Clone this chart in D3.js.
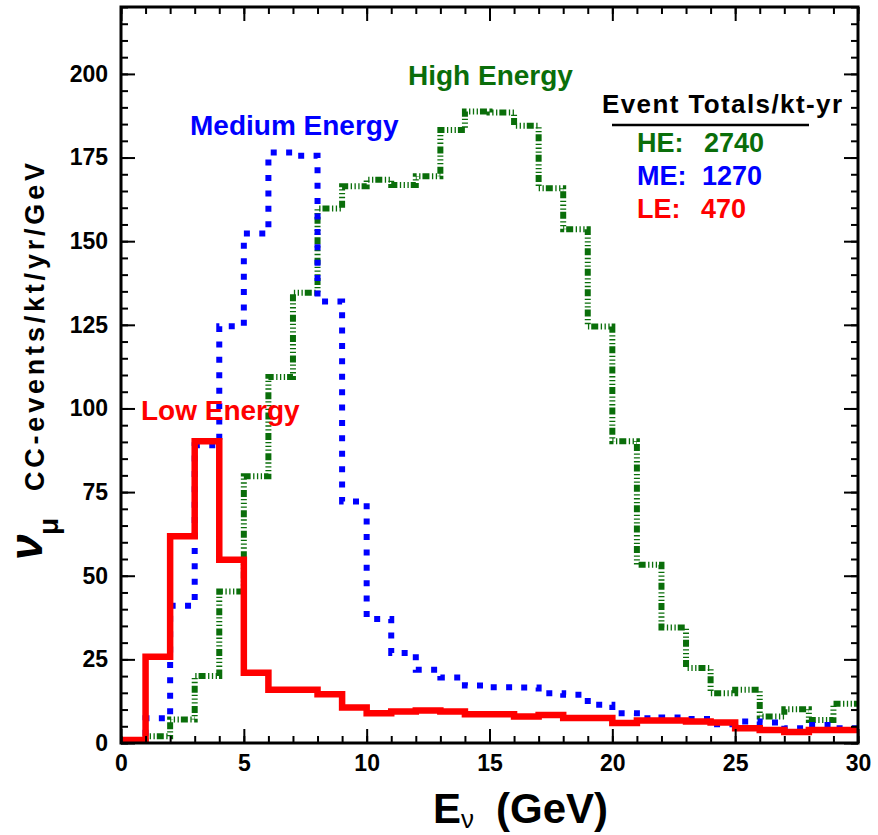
<!DOCTYPE html>
<html><head><meta charset="utf-8">
<script src="https://cdn.jsdelivr.net/npm/d3@7"></script>
<style>
body{margin:0;background:#fff}
text{font-family:"Liberation Sans",Arial,Helvetica,sans-serif;font-weight:bold}
</style>
</head><body>
<svg id="c" width="878" height="835"></svg>
<script>
// ---- data ----
const binEdges = [0,1,2,3,4,5,6,7,8,9,10,11,12,13,14,15,16,17,18,19,20,21,22,23,24,25,26,27,28,29,30];
const heValues = [0.5,2,7,20,45.3,79.7,109.4,134.6,159.8,166.4,168.4,166.8,169.4,183.2,188.8,188.5,184.5,165.8,153.6,124.5,90.2,53.3,34.5,22.4,14.9,15.9,7.9,10.1,6.9,11.7];
const meValues = [0.3,7.4,41,89,124.6,152.3,176.5,175.5,132,72.2,37.1,26.9,21.9,19.6,17.2,16.7,16.6,14.9,14.4,11.4,8.9,7.4,7.6,7.2,5.6,6.4,6.1,4.4,5.4,4.4];
const leValues = [0.9,25.8,61.8,90.2,54.8,21,15.9,15.9,14.6,10.6,8.9,9.4,9.7,9.4,8.6,8.6,7.9,8.4,7.5,7.5,6.0,6.7,6.7,6.4,6.1,4.4,3.9,3.3,3.9,3.9];
const xTickValues = [0,5,10,15,20,25,30];
const yTickValues = [0,25,50,75,100,125,150,175,200];
const seriesLabels = ["High Energy","Medium Energy","Low Energy"];
const totalsTitle = "Event Totals/kt-yr";
const totalsKeys = ["HE:","ME:","LE:"];
const totalsValues = ["2740","1270","470"];

// ---- layout ----
const svg = d3.select("#c");
const L = 121, R = 858, T = 7, B = 743;
const x = d3.scaleLinear().domain([0,30]).range([L,R]);
const y = d3.scaleLinear().domain([0,220]).range([B,T]);

const green = "#0a6e0a", blue = "#0000ff", red = "#ff0000";

svg.append("defs").append("clipPath").attr("id","clip")
  .append("rect").attr("x",L).attr("y",T).attr("width",R-L).attr("height",B-T);

function pts(vals){
  const p = vals.map((v,i)=>[binEdges[i], v]);
  p.push([binEdges[vals.length], vals[vals.length-1]]);
  return p;
}
const line = d3.line().x(d=>x(d[0])).y(d=>y(d[1])).curve(d3.curveStepAfter);

const g = svg.append("g").attr("clip-path","url(#clip)");
g.append("path").attr("d", line(pts(heValues))).attr("fill","none")
  .attr("stroke",green).attr("stroke-width",6)
  .attr("stroke-dasharray","7,2.5,1.3,2.5,1.3,2.5,1.3,2");
g.append("path").attr("d", line(pts(meValues))).attr("fill","none")
  .attr("stroke",blue).attr("stroke-width",6)
  .attr("stroke-dasharray","6,9.4");
g.append("path").attr("d", line(pts(leValues))).attr("fill","none")
  .attr("stroke",red).attr("stroke-width",6.5).attr("stroke-linejoin","miter");

// ---- axes ----
function styleAxis(sel){
  sel.select(".domain").remove();
  sel.selectAll("line").attr("stroke","#000").attr("stroke-width",2);
  sel.selectAll("text").attr("font-size",23).attr("fill","#000")
    .attr("font-family","'Liberation Sans',Arial,sans-serif").attr("font-weight","bold");
}
const xMinor = d3.range(0,31,1), yMinor = d3.range(0,221,5);
// bottom
svg.append("g").attr("transform",`translate(0,${B})`)
  .call(d3.axisBottom(x).tickValues(xMinor).tickSize(-7).tickFormat("")).call(styleAxis);
svg.append("g").attr("transform",`translate(0,${B})`)
  .call(d3.axisBottom(x).tickValues(xTickValues).tickSize(-14).tickPadding(12).tickFormat(d3.format("d"))).call(styleAxis);
// top
svg.append("g").attr("transform",`translate(0,${T})`)
  .call(d3.axisTop(x).tickValues(xMinor).tickSize(-7).tickFormat("")).call(styleAxis);
svg.append("g").attr("transform",`translate(0,${T})`)
  .call(d3.axisTop(x).tickValues(xTickValues).tickSize(-14).tickFormat("")).call(styleAxis);
// left
svg.append("g").attr("transform",`translate(${L},0)`)
  .call(d3.axisLeft(y).tickValues(yMinor).tickSize(-7).tickFormat("")).call(styleAxis);
svg.append("g").attr("transform",`translate(${L},0)`)
  .call(d3.axisLeft(y).tickValues(yTickValues).tickSize(-14).tickPadding(13).tickFormat(d3.format("d"))).call(styleAxis);
// right
svg.append("g").attr("transform",`translate(${R},0)`)
  .call(d3.axisRight(y).tickValues(yMinor).tickSize(-7).tickFormat("")).call(styleAxis);
svg.append("g").attr("transform",`translate(${R},0)`)
  .call(d3.axisRight(y).tickValues(yTickValues).tickSize(-14).tickFormat("")).call(styleAxis);

svg.append("rect").attr("x",L).attr("y",T).attr("width",R-L).attr("height",B-T)
  .attr("fill","none").attr("stroke","#000").attr("stroke-width",3);

// ---- axis titles ----
const xt = svg.append("text").attr("y",823).attr("fill","#000");
xt.append("tspan").attr("x",433).attr("font-size",42).text("E");
xt.append("tspan").attr("font-size",26).attr("dy",5).attr("font-weight","normal").text("ν");
xt.append("tspan").attr("font-size",42).attr("dy",-5).attr("x",496).text("(GeV)");

svg.append("text").attr("transform","translate(42,560) rotate(-90)")
  .attr("font-size",46).attr("font-weight","normal").attr("font-style","italic").attr("fill","#000").text("ν");
svg.append("text").attr("transform","translate(58,535) rotate(-90)")
  .attr("font-size",28).attr("font-weight","normal").attr("fill","#000").text("μ");
svg.append("text").attr("transform","translate(44,491) rotate(-90)")
  .attr("font-size",27).attr("fill","#000")
  .attr("textLength",328).attr("lengthAdjust","spacing").text("CC-events/kt/yr/GeV");

// ---- series labels ----
svg.append("text").attr("x",408).attr("y",85).attr("font-size",28).attr("fill",green).text(seriesLabels[0]);
svg.append("text").attr("x",190).attr("y",135).attr("font-size",28).attr("fill",blue).text(seriesLabels[1]);
svg.append("text").attr("x",141).attr("y",420).attr("font-size",28).attr("fill",red).text(seriesLabels[2]);

// ---- totals box ----
svg.append("text").attr("x",602).attr("y",113).attr("font-size",26).attr("fill","#000")
  .attr("textLength",240).attr("lengthAdjust","spacing").text(totalsTitle);
svg.append("line").attr("x1",612).attr("x2",809).attr("y1",125).attr("y2",125)
  .attr("stroke","#000").attr("stroke-width",2.5);
const tc = [green, blue, red];
const ty = [152, 185, 218];
const tvx = [704, 702, 701];
totalsKeys.forEach((k,i)=>{
  svg.append("text").attr("x",637).attr("y",ty[i]).attr("font-size",27).attr("fill",tc[i]).text(k);
  svg.append("text").attr("x",tvx[i]).attr("y",ty[i]).attr("font-size",27).attr("fill",tc[i]).text(totalsValues[i]);
});
</script>
</body></html>
